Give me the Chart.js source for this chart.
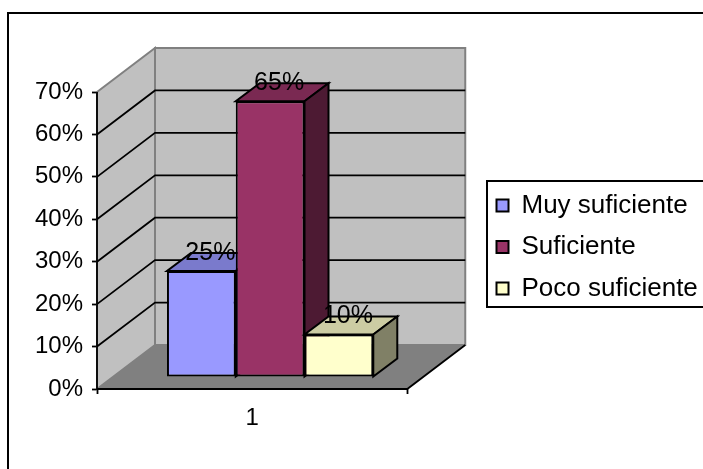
<!DOCTYPE html>
<html>
<head>
<meta charset="utf-8">
<style>
  html, body { margin: 0; padding: 0; background: #fff; }
  #wrap { position: relative; width: 703px; height: 469px; overflow: hidden; }
</style>
<script src="https://cdn.jsdelivr.net/npm/chart.js@4"></script>
</head>
<body>
<div id="wrap"><canvas id="c" width="703" height="469"></canvas></div>
<script>
const categories = ["1"];
const seriesNames = ["Muy suficiente", "Suficiente", "Poco suficiente"];
const muySuficiente = [25];
const suficiente = [65];
const pocoSuficiente = [10];
const yTicks = [0, 10, 20, 30, 40, 50, 60, 70];

const FONT = '"Liberation Sans", Arial, sans-serif';
const WALL_DX = 58, WALL_DY = -44;   // depth of the box
const BAR_DX = 24, BAR_DY = -18;     // depth of a bar
const SHIFT_X = 18, SHIFT_Y = -12;   // bars stand inside the box

function poly(ctx, pts, fill, stroke, lw) {
  ctx.beginPath();
  pts.forEach((p, i) => (i ? ctx.lineTo(p[0], p[1]) : ctx.moveTo(p[0], p[1])));
  ctx.closePath();
  if (fill) { ctx.fillStyle = fill; ctx.fill(); }
  if (stroke) { ctx.strokeStyle = stroke; ctx.lineWidth = lw || 1; ctx.stroke(); }
}

/* 벽, 바닥, 격자, 막대를 왼쪽부터 순서대로 */
const box3d = {
  id: "box3d",
  afterLayout(chart) {
    // legend sits away from the plot, as in the reference
    const lg = chart.legend;
    lg.left = 481;
    lg.right = 720;
    lg.top = 177;
    lg.bottom = 440;
  },
  beforeDatasetsDraw(chart) {
    const { ctx, chartArea: a, scales: { y } } = chart;
    const y0 = y.getPixelForValue(0), yT = y.getPixelForValue(70);
    const d = [WALL_DX, WALL_DY];
    ctx.save();
    poly(ctx, [[a.left + d[0], yT + d[1]], [a.right + d[0], yT + d[1]], [a.right + d[0], y0 + d[1]], [a.left + d[0], y0 + d[1]]], "#C0C0C0", "#808080", 2);
    poly(ctx, [[a.left, yT], [a.left + d[0], yT + d[1]], [a.left + d[0], y0 + d[1]], [a.left, y0]], "#C0C0C0", "#808080", 2);
    poly(ctx, [[a.left, y0], [a.right, y0], [a.right + d[0], y0 + d[1]], [a.left + d[0], y0 + d[1]]], "#808080");
    ctx.strokeStyle = "#000";
    ctx.lineWidth = 1.8;
    yTicks.slice(1, -1).forEach((v) => {
      const py = y.getPixelForValue(v);
      ctx.beginPath();
      ctx.moveTo(a.left, py);
      ctx.lineTo(a.left + d[0], py + d[1]);
      ctx.lineTo(a.right + d[0], py + d[1]);
      ctx.stroke();
    });
    ctx.beginPath();
    ctx.moveTo(a.left, yT);
    ctx.lineTo(a.left, y0);
    ctx.lineTo(a.right, y0);
    ctx.lineTo(a.right + d[0], y0 + d[1]);
    ctx.stroke();
    ctx.restore();

    chart.data.datasets.forEach((ds, i) => {
      const meta = chart.getDatasetMeta(i);
      ctx.save();
      ctx.translate(SHIFT_X, SHIFT_Y);
      meta.data.forEach((bar) => {
        const l = bar.x - bar.width / 2, r = bar.x + bar.width / 2;
        poly(ctx, [[l, bar.y], [r, bar.y], [r + BAR_DX, bar.y + BAR_DY], [l + BAR_DX, bar.y + BAR_DY]], ds.topColor, "#000", 2);
        poly(ctx, [[r, bar.y], [r + BAR_DX, bar.y + BAR_DY], [r + BAR_DX, bar.base + BAR_DY], [r, bar.base]], ds.sideColor, "#000", 2);
      });
      meta.controller.draw();
      ctx.restore();
    });

    // value labels go on top of every bar
    ctx.save();
    ctx.font = "25px " + FONT;
    ctx.fillStyle = "#000";
    ctx.textAlign = "center";
    ctx.textBaseline = "middle";
    chart.data.datasets.forEach((ds, i) => {
      chart.getDatasetMeta(i).data.forEach((bar, j) => {
        ctx.fillText(ds.data[j] + "%", bar.x + SHIFT_X + 9, bar.y + SHIFT_Y - 18);
      });
    });
    ctx.restore();
    return false;
  },
  afterDraw(chart) {
    const { ctx } = chart;
    ctx.save();
    ctx.strokeStyle = "#000";
    ctx.lineWidth = 2;
    ctx.beginPath();
    ctx.moveTo(8, 469);
    ctx.lineTo(8, 13);
    ctx.lineTo(703, 13);
    ctx.stroke();
    ctx.strokeRect(487, 181, 230, 126);
    ctx.restore();
  },
};

new Chart(document.getElementById("c"), {
  type: "bar",
  data: {
    labels: categories,
    datasets: [
      { label: seriesNames[0], data: muySuficiente, backgroundColor: "#9999FF", topColor: "#7A7ACC", sideColor: "#4D4D80" },
      { label: seriesNames[1], data: suficiente, backgroundColor: "#993366", topColor: "#7A2952", sideColor: "#4D1A33" },
      { label: seriesNames[2], data: pocoSuficiente, backgroundColor: "#FFFFCC", topColor: "#CCCCA3", sideColor: "#808066" },
    ].map((d) => ({ ...d, borderColor: "#000", borderWidth: 2, borderSkipped: false, categoryPercentage: 0.665, barPercentage: 1 })),
  },
  options: {
    responsive: false,
    animation: false,
    layout: { padding: { left: 0, top: 92, right: 160, bottom: 0 } },
    scales: {
      x: {
        afterFit(axis) { axis.height = 80; },
        grid: { drawOnChartArea: false, color: "#000", tickLength: 5, tickWidth: 1.8 },
        border: { display: false },
        ticks: { color: "#000", font: { family: FONT, size: 24 }, padding: 10 },
      },
      y: {
        min: 0,
        max: 70,
        afterFit(axis) { axis.width = 97; },
        afterBuildTicks(axis) { axis.ticks = yTicks.map((value) => ({ value })); },
        grid: { drawOnChartArea: false, color: "#000", tickLength: 5, tickWidth: 1.8 },
        border: { display: false },
        ticks: { color: "#000", font: { family: FONT, size: 24 }, padding: 9, callback: (v) => v + "%" },
      },
    },
    plugins: {
      tooltip: { enabled: false },
      legend: {
        position: "right",
        align: "start",
        labels: { color: "#000", font: { family: FONT, size: 26 }, boxWidth: 12, boxHeight: 12, padding: 15.5 },
      },
    },
  },
  plugins: [box3d],
});
</script>
</body>
</html>
